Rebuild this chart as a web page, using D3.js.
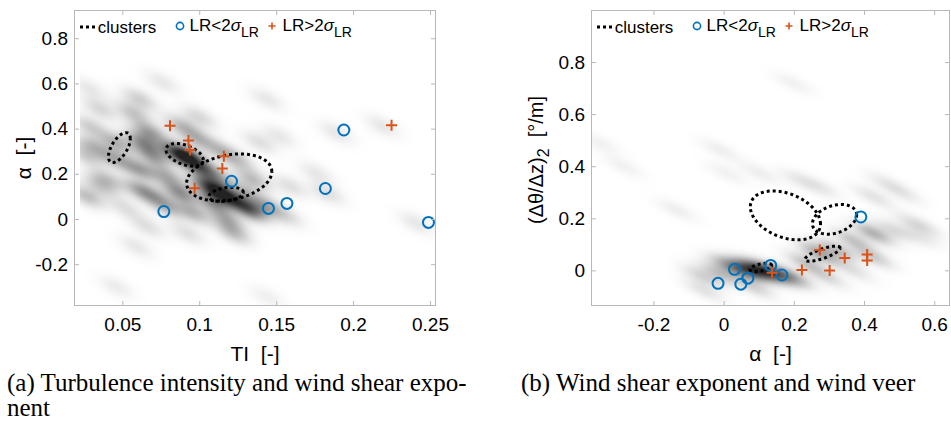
<!DOCTYPE html>
<html>
<head>
<meta charset="utf-8">
<script src="https://cdn.jsdelivr.net/npm/d3@7"></script>
<style>
  html, body { margin: 0; padding: 0; background: #fff; }
  svg { display: block; }
  text { font-family: "Liberation Sans", Arial, Helvetica, sans-serif; }
  .caption { font-family: "Liberation Serif", "Times New Roman", serif; }
</style>
</head>
<body>
<svg id="fig" width="951" height="421"></svg>
<script>
// ---------- tick values and labels ----------
const ticksAx = [0.05, 0.1, 0.15, 0.2, 0.25];
const tickLabelsAx = ["0.05", "0.1", "0.15", "0.2", "0.25"];
const ticksAy = [-0.2, 0, 0.2, 0.4, 0.6, 0.8];
const tickLabelsAy = ["-0.2", "0", "0.2", "0.4", "0.6", "0.8"];
const ticksBx = [-0.2, 0, 0.2, 0.4, 0.6];
const tickLabelsBx = ["-0.2", "0", "0.2", "0.4", "0.6"];
const ticksBy = [0, 0.2, 0.4, 0.6, 0.8];
const tickLabelsBy = ["0", "0.2", "0.4", "0.6", "0.8"];

// ---------- panel (a): turbulence intensity vs shear exponent ----------
// events with LR < 2 sigma_LR  [TI, alpha]
const lowA = [[0.077, 0.033], [0.121, 0.167], [0.145, 0.047], [0.157, 0.069],
              [0.182, 0.135], [0.194, 0.394], [0.249, -0.015]];
// events with LR > 2 sigma_LR  [TI, alpha]
const highA = [[0.081, 0.413], [0.093, 0.348], [0.094, 0.305], [0.097, 0.136],
               [0.116, 0.278], [0.115, 0.224], [0.225, 0.415]];
// cluster ellipses [centre x, centre y, half-width x, half-height y, correlation]
const clustersA = [[0.0481, 0.316, 0.0071, 0.066, 0.6],
                   [0.0905, 0.284, 0.0121, 0.050, -0.45],
                   [0.1195, 0.184, 0.0277, 0.104, 0.25],
                   [0.1175, 0.109, 0.0112, 0.031, 0.3]];
// kernel density of all samples: [TI, alpha, weight]
const densityA = [
  [0.029, 0.575, 0.15], [0.0615, 0.53, 0.3], [0.076, 0.605, 0.15], [0.144, 0.53, 0.15],
  [0.0355, 0.486, 0.25], [0.057, 0.47, 0.35], [0.089, 0.41, 0.4], [0.029, 0.41, 0.3],
  [0.068, 0.383, 0.55], [0.0635, 0.339, 0.6], [0.046, 0.338, 0.45], [0.031, 0.322, 0.4],
  [0.100, 0.352, 0.4], [0.0853, 0.293, 0.7], [0.0918, 0.278, 0.85], [0.070, 0.278, 0.55],
  [0.046, 0.264, 0.45], [0.027, 0.278, 0.3], [0.0615, 0.219, 0.55], [0.100, 0.234, 0.7],
  [0.079, 0.19, 0.45], [0.111, 0.189, 0.45], [0.135, 0.175, 0.4], [0.1048, 0.152, 0.7],
  [0.0355, 0.145, 0.3], [0.0615, 0.13, 0.45], [0.0875, 0.116, 0.65], [0.1134, 0.116, 0.85],
  [0.122, 0.086, 0.65], [0.109, 0.072, 0.6], [0.133, 0.041, 0.85], [0.144, 0.056, 0.45],
  [0.027, 0.10, 0.4], [0.096, 0.028, 0.45], [0.079, 0.056, 0.4], [0.118, -0.003, 0.45],
  [0.066, -0.033, 0.2], [0.122, -0.061, 0.4], [0.092, -0.062, 0.2], [0.157, 0.012, 0.2],
  [0.159, 0.145, 0.2], [0.176, 0.204, 0.15], [0.183, 0.115, 0.2], [0.189, 0.382, 0.15],
  [0.152, 0.367, 0.15], [0.139, 0.339, 0.2], [0.219, 0.412, 0.15], [0.241, -0.018, 0.15],
  [0.059, -0.122, 0.15], [0.046, -0.30, 0.12], [0.144, -0.344, 0.1],
  [0.040, 0.174, 0.35], [0.052, 0.05, 0.2], [0.070, 0.10, 0.35], [0.130, 0.12, 0.35],
  [0.100, 0.45, 0.25], [0.115, 0.30, 0.35], [0.125, 0.26, 0.3]
];

// ---------- panel (b): shear exponent vs wind veer ----------
const lowB = [[-0.016, -0.050], [0.031, 0.004], [0.049, -0.053], [0.069, -0.030],
              [0.134, 0.019], [0.166, -0.018], [0.391, 0.205]];
const highB = [[0.138, -0.009], [0.223, 0.001], [0.274, 0.078], [0.302, -0.001],
               [0.345, 0.047], [0.409, 0.061], [0.409, 0.038]];
const clustersB = [[0.176, 0.211, 0.100, 0.094, -0.35],
                   [0.316, 0.196, 0.063, 0.057, 0.3],
                   [0.282, 0.064, 0.050, 0.029, 0.75],
                   [0.106, 0.011, 0.031, 0.016, 0.5]];
const densityB = [
  [0.103, 0.001, 1.0], [0.066, 0.001, 0.8], [0.151, -0.012, 0.75], [0.018, 0.014, 0.55],
  [-0.011, -0.012, 0.4], [-0.058, -0.025, 0.3], [0.198, -0.025, 0.45], [0.236, 0.027, 0.4],
  [0.274, 0.065, 0.6], [0.322, 0.078, 0.45], [0.426, 0.142, 0.55], [0.369, 0.116, 0.4],
  [0.217, 0.347, 0.15], [0.274, 0.32, 0.15], [0.464, 0.335, 0.15], [0.512, 0.296, 0.15],
  [0.426, 0.283, 0.2], [0.54, 0.18, 0.15], [0.483, 0.155, 0.25], [0.559, 0.129, 0.15],
  [0.426, 0.052, 0.35], [0.369, 0.001, 0.2], [0.293, -0.025, 0.25], [0.084, -0.063, 0.3],
  [-0.058, -0.076, 0.2], [0.009, 0.373, 0.1], [0.103, 0.373, 0.12], [-0.134, 0.232, 0.12],
  [-0.286, 0.40, 0.1], [-0.011, 0.463, 0.12], [0.198, 0.719, 0.1], [-0.352, 0.488, 0.1],
  [0.569, 0.168, 0.15]
];

// ---------- styling ----------
const BLUE = "#0072BD", RED = "#D95319", AXIS = "#b8b8b8";

const panels = [
  {
    left: 74, right: 436, top: 10, bottom: 306,
    xDomain: [0.0186, 0.2539], yDomain: [-0.385, 0.925], kdeXMin: 0.0225,
    xTicks: ticksAx, xLabels: tickLabelsAx, yTicks: ticksAy, yLabels: tickLabelsAy,
    low: lowA, high: highA, clusters: clustersA, density: densityA,
    kernel: { major: 13, minor: 6, angle: 27, gain: 0.7 },
    xTitle: "TI\u00a0\u00a0[-]"
  },
  {
    left: 591, right: 950, top: 10, bottom: 306,
    xDomain: [-0.378, 0.645], yDomain: [-0.137, 1.0], kdeXMin: -Infinity,
    xTicks: ticksBx, xLabels: tickLabelsBx, yTicks: ticksBy, yLabels: tickLabelsBy,
    low: lowB, high: highB, clusters: clustersB, density: densityB,
    kernel: { major: 15, minor: 5, angle: 25, gain: 0.62 },
    xTitle: "\u03b1\u00a0\u00a0[-]"
  }
];

const svg = d3.select("#fig");
svg.append("rect").attr("width", 951).attr("height", 421).attr("fill", "#fff");

panels.forEach((p) => {
  const x = d3.scaleLinear().domain(p.xDomain).range([p.left, p.right]);
  const y = d3.scaleLinear().domain(p.yDomain).range([p.bottom, p.top]);
  const g = svg.append("g");
  const W = p.right - p.left, H = p.bottom - p.top;

  // density shading rendered to a raster
  const cv = document.createElement("canvas");
  cv.width = W; cv.height = H;
  const ctx = cv.getContext("2d");
  const img = ctx.createImageData(W, H);
  const acc = new Float32Array(W * H);
  const a = p.kernel.angle * Math.PI / 180, ca = Math.cos(a), sa = Math.sin(a);
  const su2 = p.kernel.major * p.kernel.major, sv2 = p.kernel.minor * p.kernel.minor;
  const R = 4 * p.kernel.major;
  p.density.forEach(([dx, dy, w]) => {
    const cx = x(dx) - p.left, cy = y(dy) - p.top;
    const j0 = Math.max(0, Math.floor(cy - R)), j1 = Math.min(H, Math.ceil(cy + R));
    const i0 = Math.max(0, Math.floor(cx - R)), i1 = Math.min(W, Math.ceil(cx + R));
    for (let j = j0; j < j1; j++) {
      for (let i = i0; i < i1; i++) {
        const ex = i + 0.5 - cx, ey = j + 0.5 - cy;
        const u = ex * ca + ey * sa, v = -ex * sa + ey * ca;
        acc[j * W + i] += p.kernel.gain * w * Math.exp(-0.5 * (u * u / su2 + v * v / sv2));
      }
    }
  });
  const xMinPx = x(p.kdeXMin) - p.left;
  for (let j = 0; j < H; j++) {
    for (let i = 0; i < W; i++) {
      const k = j * W + i;
      const d = i < xMinPx ? 0 : Math.min(1, acc[k]);
      const gv = Math.round(255 - 220 * d);
      img.data[4 * k] = gv; img.data[4 * k + 1] = gv; img.data[4 * k + 2] = gv; img.data[4 * k + 3] = 255;
    }
  }
  ctx.putImageData(img, 0, 0);
  g.append("image").attr("href", cv.toDataURL())
    .attr("x", p.left).attr("y", p.top).attr("width", W).attr("height", H);

  // cluster ellipses (dotted)
  const ts = d3.range(0, 121).map(i => i / 120 * 2 * Math.PI);
  const line = d3.line().x(d => d[0]).y(d => d[1]);
  p.clusters.forEach(([cx, cy, sx, sy, rho]) => {
    const ph = Math.acos(rho);
    const pts = ts.map(t => [x(cx + sx * Math.cos(t)), y(cy + sy * Math.cos(t - ph))]);
    g.append("path").attr("d", line(pts)).attr("fill", "none")
      .attr("stroke", "#000").attr("stroke-width", 3).attr("stroke-dasharray", "3 3");
  });

  // markers
  g.selectAll(".low").data(p.low).join("circle")
    .attr("cx", d => x(d[0])).attr("cy", d => y(d[1])).attr("r", 5.5)
    .attr("fill", "none").attr("stroke", BLUE).attr("stroke-width", 2);
  g.selectAll(".high").data(p.high).join("path")
    .attr("d", d => { const px = x(d[0]), py = y(d[1]), s = 5.5;
      return `M${px - s},${py}H${px + s}M${px},${py - s}V${py + s}`; })
    .attr("fill", "none").attr("stroke", RED).attr("stroke-width", 2);

  // axes (ticks inward on all four sides)
  const fmt = (ticks, labels) => v => labels[ticks.indexOf(v)];
  const ax = (axis, pos, labelled) => {
    const a2 = axis.tickSizeInner(-5).tickSizeOuter(0);
    const gg = svg.append("g").attr("transform", pos).call(a2);
    gg.select(".domain").remove();
    gg.selectAll(".tick line").attr("stroke", AXIS);
    gg.selectAll(".tick text").attr("fill", "#000").style("font-size", "19px")
      .style("font-family", '"Liberation Sans", Arial, sans-serif');
    if (!labelled) gg.selectAll(".tick text").remove();
    return gg;
  };
  ax(d3.axisBottom(x).tickValues(p.xTicks).tickFormat(fmt(p.xTicks, p.xLabels)).tickPadding(12),
     `translate(0,${p.bottom})`, true);
  ax(d3.axisTop(x).tickValues(p.xTicks), `translate(0,${p.top})`, false);
  ax(d3.axisLeft(y).tickValues(p.yTicks).tickFormat(fmt(p.yTicks, p.yLabels)).tickPadding(6),
     `translate(${p.left},0)`, true);
  ax(d3.axisRight(y).tickValues(p.yTicks), `translate(${p.right},0)`, false);
  svg.append("rect").attr("x", p.left + 0.5).attr("y", p.top + 0.5)
    .attr("width", W - 1).attr("height", H - 1)
    .attr("fill", "none").attr("stroke", AXIS).attr("stroke-width", 1);

  // x title
  svg.append("text").attr("x", (p.left + p.right) / 2).attr("y", 361)
    .attr("text-anchor", "middle").style("font-size", "21px").text(p.xTitle);

  // legend
  const lg = svg.append("g").attr("transform", `translate(${p.left},0)`);
  lg.append("line").attr("x1", 6).attr("x2", 22).attr("y1", 27).attr("y2", 27)
    .attr("stroke", "#000").attr("stroke-width", 3).attr("stroke-dasharray", "3 3");
  lg.append("text").attr("x", 23.7).attr("y", 33).style("font-size", "17px").text("clusters");
  lg.append("circle").attr("cx", 106).attr("cy", 26).attr("r", 3.6)
    .attr("fill", "none").attr("stroke", BLUE).attr("stroke-width", 1.6);
  lg.append("path").attr("d", "M194.5,26H201.5M198,22.5V29.5")
    .attr("stroke", RED).attr("stroke-width", 1.6);
  [[115.5, "<"], [208.5, ">"]].forEach(([tx, op]) => {
    const t = lg.append("text").attr("x", tx).attr("y", 31).style("font-size", "17px");
    t.append("tspan").text("LR" + op + "2");
    t.append("tspan").style("font-style", "italic").text("\u03c3");
    t.append("tspan").attr("dy", 6).style("font-size", "14px").text("LR");
  });
});

// y titles
svg.append("text").attr("transform", "translate(31,158) rotate(-90)")
  .attr("text-anchor", "middle").style("font-size", "21px").text("\u03b1\u00a0\u00a0[-]");
const yt = svg.append("text").attr("transform", "translate(543,160) rotate(-90)")
  .attr("text-anchor", "middle").style("font-size", "20px");
yt.append("tspan").text("(\u0394\u03b8/\u0394z)");
yt.append("tspan").attr("dy", 6).style("font-size", "16px").text("2");
yt.append("tspan").attr("dy", -6).text("\u00a0\u00a0[\u00b0/m]");

// sub-figure captions
svg.append("text").attr("class", "caption").attr("x", 7).attr("y", 391)
  .style("font-size", "25px").text("(a) Turbulence intensity and wind shear expo-");
svg.append("text").attr("class", "caption").attr("x", 7).attr("y", 416)
  .style("font-size", "25px").text("nent");
svg.append("text").attr("class", "caption").attr("x", 521).attr("y", 391)
  .style("font-size", "25px").text("(b) Wind shear exponent and wind veer");
</script>
</body>
</html>
